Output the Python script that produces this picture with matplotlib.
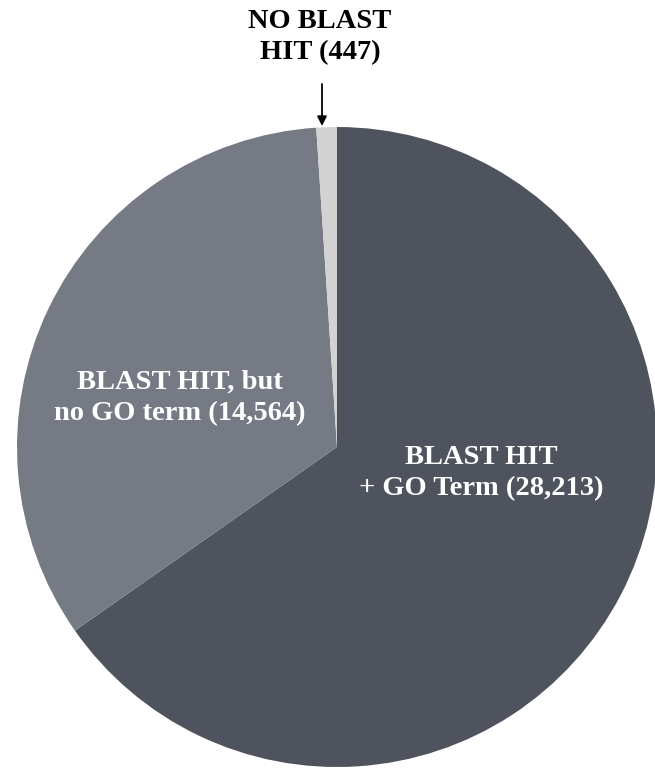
import matplotlib
matplotlib.use("Agg")
import matplotlib.pyplot as plt

# annotation counts per category
labels = ["BLAST HIT\n+ GO Term (28,213)", "BLAST HIT, but\nno GO term (14,564)", "NO BLAST\nHIT (447)"]
counts = [28213, 14564, 447]
colors = ["#4f535e", "#767a85", "#d2d2d2"]

W, H = 655, 777
fig = plt.figure(figsize=(W / 100, H / 100), dpi=100)
ax = fig.add_axes([0, 0, 1, 1])

cx, cy, r = 337, H - 447, 320
ax.pie(counts, colors=colors, startangle=90, counterclock=False,
       center=(cx, cy), radius=r, frame=True,
       wedgeprops=dict(linewidth=0))
ax.set_xlim(0, W)
ax.set_ylim(0, H)
ax.set_aspect("equal")
ax.axis("off")

font = dict(family="Liberation Serif", weight="bold", size=20.5,
            ha="center", va="center", multialignment="center", linespacing=1.33)

ax.text(481, H - 473, labels[0], color="white", **font)
ax.text(180, H - 398, labels[1], color="white", **font)
ax.text(320, H - 37, labels[2], color="black", **font)

# arrow pointing at the small slice
ax.annotate("", xy=(322, H - 126), xytext=(322, H - 84),
            arrowprops=dict(arrowstyle="-|>", color="black", lw=1.3,
                            mutation_scale=14, shrinkA=0, shrinkB=0))

fig.savefig("out.png", dpi=100, facecolor="white")
